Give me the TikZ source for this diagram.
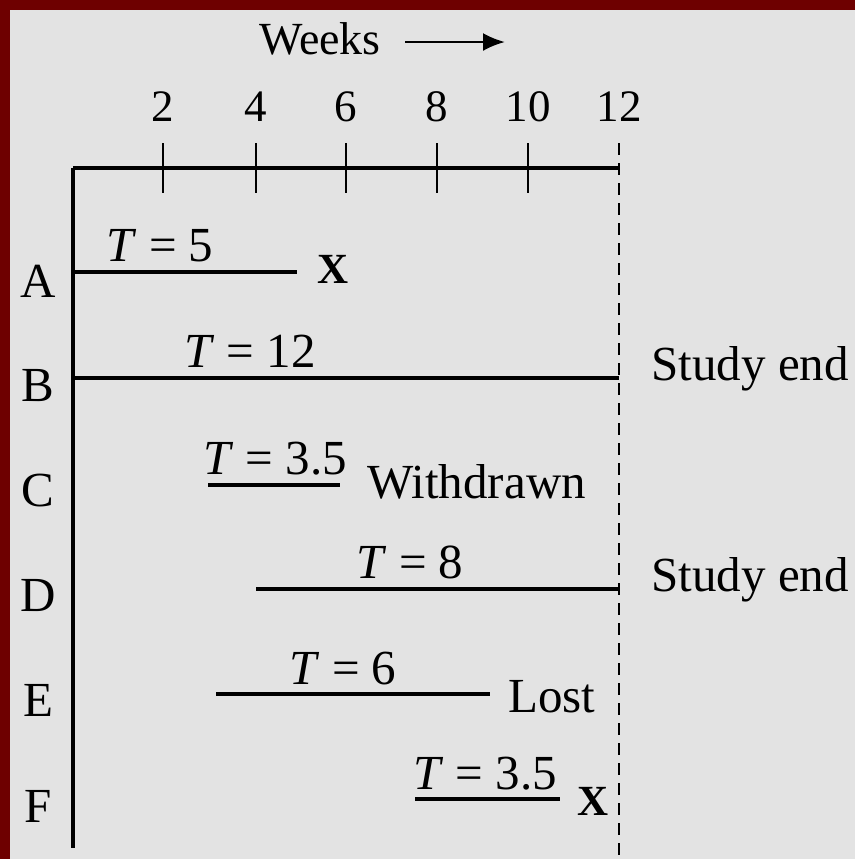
\documentclass[tikz,border=0pt]{standalone}
\usepackage{fontspec}
\setmainfont{Liberation Serif}
\usetikzlibrary{arrows.meta}
\definecolor{bgc}{HTML}{E3E3E3}
\definecolor{framec}{HTML}{6E0000}
\begin{document}
\begin{tikzpicture}[x=0.5pt,y=-0.5pt,
  txt/.style={font=\fontsize{24.5}{29}\selectfont, inner sep=0pt, anchor=base},
  ticklbl/.style={font=\fontsize{22.5}{27}\selectfont, inner sep=0pt, anchor=base},
  xmark/.style={font=\fontsize{21.5}{26}\selectfont\bfseries, inner sep=0pt, anchor=base},
  axisline/.style={line width=1.6pt},
  tickline/.style={line width=1.4pt},
  subjline/.style={line width=1.6pt},
  endline/.style={line width=1pt, dash pattern=on 6pt off 4pt}]
% background and frame
\fill[bgc] (0,0) rectangle (855,859);
\fill[framec] (0,0) rectangle (855,10);
\fill[framec] (0,0) rectangle (10,859);
\useasboundingbox (0,0) rectangle (855,859);
% header
\node[txt, font=\fontsize{23}{28}\selectfont] (weeks) at (320,54) {Weeks};
\coordinate (wa1) at (405,42);
\coordinate (wa2) at (505,42);
\draw[line width=1.3pt, -{Latex[length=11pt,width=9pt]}] (wa1) -- (wa2);
% axes
\coordinate (o) at (73,168);
\coordinate (xe) at (619,168);
\coordinate (ye) at (73,848);
\draw[axisline] (o) -- (xe);
\draw[axisline] (o) -- (ye);
% ticks
\foreach \w/\x in {2/163,4/256,6/346,8/437,10/528}{
  \coordinate (t\w a) at (\x,143);
  \coordinate (t\w b) at (\x,193);
  \draw[tickline] (t\w a) -- (t\w b);
  \node[ticklbl] (l\w) at (\x,121) {\w};
}
\node[ticklbl] (l12) at (619,121) {12};
% study end dashed line
\coordinate (d1) at (619,143);
\coordinate (d2) at (619,859);
\draw[endline] (d1) -- (d2);
% row letters
\foreach \r/\y in {A/297,B/401,C/506,D/611,E/716,F/822}{
  \node[txt] (r\r) at (38,\y) {\r};
}
% A
\coordinate (a1) at (73,272); \coordinate (a2) at (297,272);
\draw[subjline] (a1) -- (a2);
\node[txt] (ta) at (160,261) {\textit{T} = 5};
\node[xmark] (xa) at (333,283) {X};
% B
\coordinate (b1) at (73,378); \coordinate (b2) at (619,378);
\draw[subjline] (b1) -- (b2);
\node[txt] (tb) at (250,367) {\textit{T} = 12};
\node[txt, anchor=base west] (sb) at (651,380) {Study end};
% C
\coordinate (c1) at (208,485); \coordinate (c2) at (340,485);
\draw[subjline] (c1) -- (c2);
\node[txt] (tc) at (275,474) {\textit{T} = 3.5};
\node[txt, anchor=base west] (wc) at (367,498) {Withdrawn};
% D
\coordinate (dd1) at (256,589); \coordinate (dd2) at (619,589);
\draw[subjline] (dd1) -- (dd2);
\node[txt] (td) at (410,578) {\textit{T} = 8};
\node[txt, anchor=base west] (sd) at (651,591) {Study end};
% E
\coordinate (e1) at (216,694); \coordinate (e2) at (490,694);
\draw[subjline] (e1) -- (e2);
\node[txt] (te) at (343,684) {\textit{T} = 6};
\node[txt, anchor=base west] (le) at (508,712) {Lost};
% F
\coordinate (f1) at (415,799); \coordinate (f2) at (560,799);
\draw[subjline] (f1) -- (f2);
\node[txt] (tf) at (485,789) {\textit{T} = 3.5};
\node[xmark] (xf) at (593,815) {X};
\end{tikzpicture}
\end{document}
